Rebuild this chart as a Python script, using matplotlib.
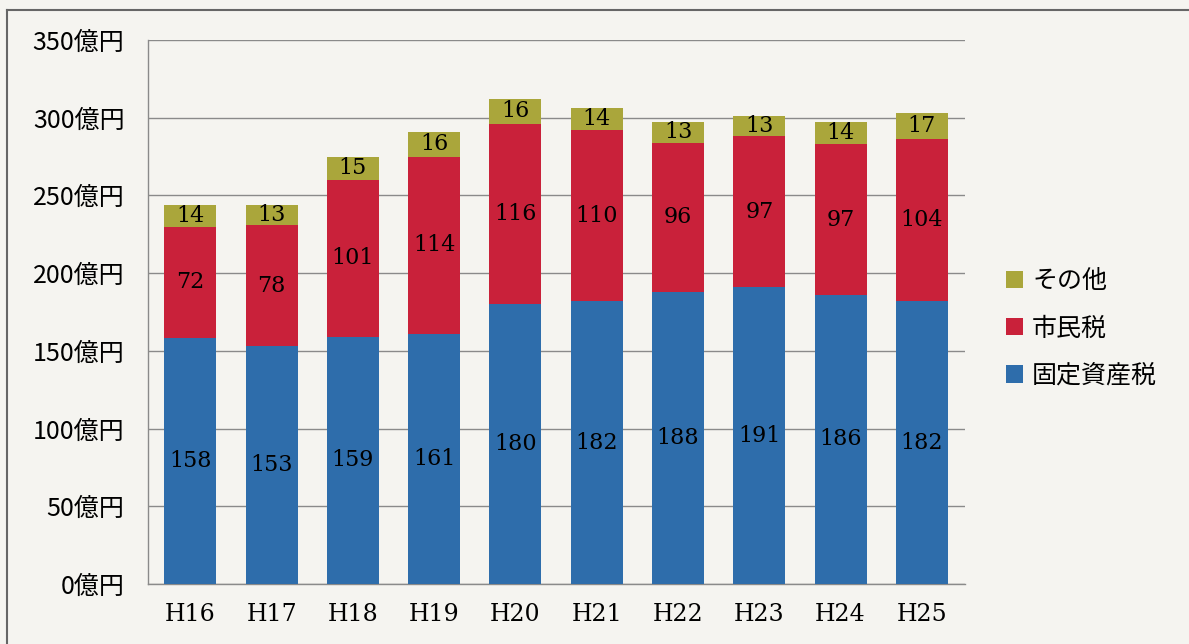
import numpy as np
import matplotlib.pyplot as plt
from matplotlib.lines import Line2D

plt.rcParams['font.family'] = ['DejaVu Serif', 'Noto Sans CJK JP', 'DejaVu Sans']

#data (unit: 億円)
years = ["H16", "H17", "H18", "H19", "H20", "H21", "H22", "H23", "H24", "H25"]
kotei = [158, 153, 159, 161, 180, 182, 188, 191, 186, 182]   #固定資産税
shimin = [72, 78, 101, 114, 116, 110, 96, 97, 97, 104]       #市民税
sonota = [14, 13, 15, 16, 16, 14, 13, 13, 14, 17]            #その他
yticks = [0, 50, 100, 150, 200, 250, 300, 350]

c_blue = "#2e6dab"
c_red = "#c9213a"
c_olive = "#aaa63b"
bg = "#f5f4f0"

fig = plt.figure(figsize=(11.89, 6.44), dpi=100, facecolor=bg)
ax = fig.add_axes([0.1245, 0.0932, 0.6871, 0.8447])
ax.set_facecolor(bg)

x = np.arange(len(years))
w = 0.64
kotei = np.array(kotei)
shimin = np.array(shimin)
sonota = np.array(sonota)

b1 = ax.bar(x, kotei, w, color=c_blue, zorder=3)
b2 = ax.bar(x, shimin, w, bottom=kotei, color=c_red, zorder=3)
b3 = ax.bar(x, sonota, w, bottom=kotei + shimin, color=c_olive, zorder=3)

#value labels in the middle of each segment
for i in range(len(years)):
    ax.text(x[i], kotei[i] / 2, str(kotei[i]), ha="center", va="center",
            fontsize=16, family="DejaVu Serif", zorder=4)
    ax.text(x[i], kotei[i] + shimin[i] / 2, str(shimin[i]), ha="center", va="center",
            fontsize=16, family="DejaVu Serif", zorder=4)
    ax.text(x[i], kotei[i] + shimin[i] + sonota[i] / 2, str(sonota[i]), ha="center",
            va="center", fontsize=16, family="DejaVu Serif", zorder=4)

ax.set_xlim(-0.52, 9.53)
ax.set_ylim(0, 350)
ax.set_yticks(yticks)
ax.set_yticklabels([f"{v}億円" for v in yticks], fontsize=18, family="Noto Sans CJK JP")
ax.set_xticks(x)
ax.set_xticklabels(years, fontsize=17, family="DejaVu Serif")
ax.tick_params(length=0)
ax.tick_params(axis="x", pad=14)
ax.tick_params(axis="y", pad=17)
ax.grid(axis="y", color="#8a8a8a", linewidth=1.0, zorder=1)
for s in ["top", "right"]:
    ax.spines[s].set_visible(False)
for s in ["left", "bottom"]:
    ax.spines[s].set_color("#8a8a8a")
    ax.spines[s].set_linewidth(1.0)

leg = fig.legend([b3, b2, b1], ["その他", "市民税", "固定資産税"],
                 loc="center left", bbox_to_anchor=(0.827, 0.49), frameon=False,
                 prop={"family": "Noto Sans CJK JP", "size": 18},
                 handlelength=0.7, handleheight=0.7, handletextpad=0.35,
                 labelspacing=0.85)

#outer frame of the figure box
fig.add_artist(Line2D([0.006, 1.0], [0.985, 0.985], color="#666666", lw=1.5))
fig.add_artist(Line2D([0.006, 0.006], [0.0, 0.985], color="#666666", lw=1.5))

fig.savefig("out.png", dpi=100, facecolor=bg)
